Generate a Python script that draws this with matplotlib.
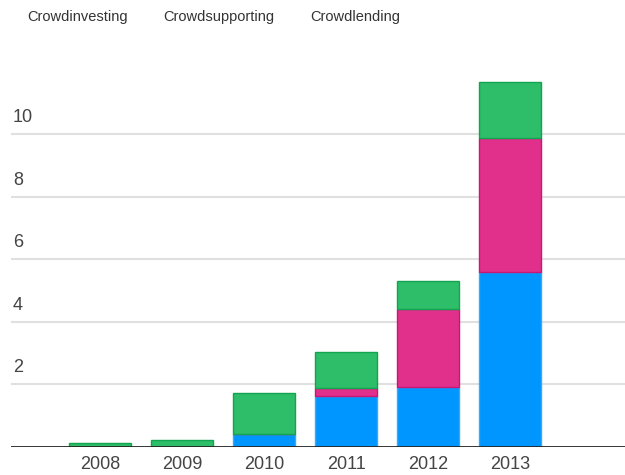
import matplotlib.pyplot as plt
import numpy as np

plt.rcParams["font.family"] = ["Liberation Sans", "DejaVu Sans"]

# ── Data ──────────────────────────────────────────────────────────────────────
years = ["2008", "2009", "2010", "2011", "2012", "2013"]
crowdinvesting = [0.0, 0.0, 0.41, 1.63, 1.90, 5.59]
crowdsupporting = [0.0, 0.0, 0.0, 0.26, 2.51, 4.27]
crowdlending = [0.13, 0.21, 1.32, 1.15, 0.89, 1.82]

series = ["Crowdinvesting", "Crowdsupporting", "Crowdlending"]
colors = ["#0096ff", "#e0308c", "#2ebd68"]
edges = ["#3aa8f5", "#c81674", "#12a550"]
yticks = [2, 4, 6, 8, 10]

# ── Figure ────────────────────────────────────────────────────────────────────
fig = plt.figure(figsize=(6.25, 4.75), dpi=100)
ax = fig.add_axes([11 / 625, 1 - 446.7 / 475, 1 - 11 / 625, (446.7 - 71.5) / 475])

x = np.arange(len(years))
bottom = np.zeros(len(years))
for vals, c, e in zip([crowdinvesting, crowdsupporting, crowdlending], colors, edges):
    vals = np.array(vals)
    ax.bar(x, vals, bottom=bottom, width=0.756, color=c, edgecolor=e,
           linewidth=1, zorder=3)
    bottom += vals

ax.set_ylim(0, 12)
ax.set_xlim(-1.085, 6.4)

for t in yticks:
    ax.axhline(t, color="#e0e0e0", linewidth=1.5, zorder=1)
    ax.text(0.003, t + 0.25, str(t), transform=ax.get_yaxis_transform(),
            ha="left", va="bottom", fontsize=13, color="#444444")
ax.axhline(0, color="#222222", linewidth=2, zorder=4)

ax.set_xticks(x)
ax.set_xticklabels(years, fontsize=13, color="#444444")
ax.tick_params(axis="x", length=0, pad=7)
ax.set_yticks([])
for s in ax.spines.values():
    s.set_visible(False)

# legend, text only
for name, xpos in zip(series, [27, 163, 310]):
    fig.text(xpos / 625, 1 - 17 / 475, name, ha="left", va="center",
             fontsize=10.5, color="#333333")

plt.savefig("out.png", dpi=100)
plt.close()
